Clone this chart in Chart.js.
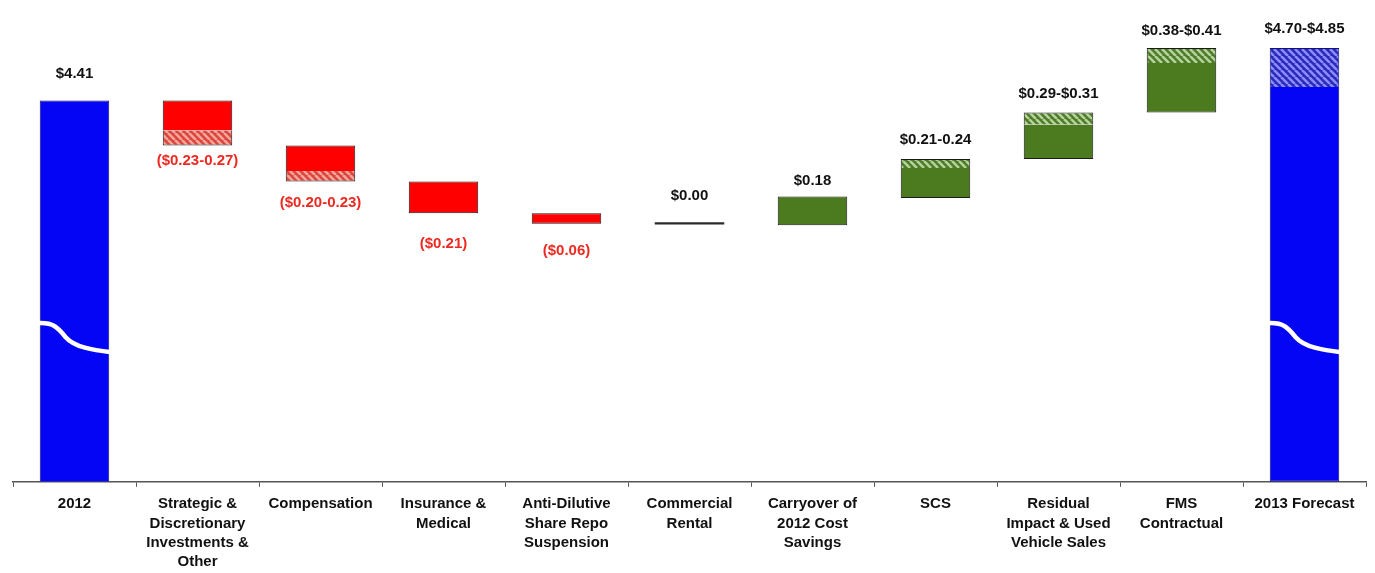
<!DOCTYPE html>
<html>
<head>
<meta charset="utf-8">
<script src="https://cdn.jsdelivr.net/npm/chart.js@4.4.0/dist/chart.umd.min.js"></script>
<style>
  html, body { margin: 0; padding: 0; background: #fff; }
</style>
</head>
<body>
<canvas id="chart" width="1375" height="573"></canvas>
<script>
// ── Data ──────────────────────────────────────────────────────────────────────
const categories = [
  ["2012"],
  ["Strategic &", "Discretionary", "Investments &", "Other"],
  ["Compensation"],
  ["Insurance &", "Medical"],
  ["Anti-Dilutive", "Share Repo", "Suspension"],
  ["Commercial", "Rental"],
  ["Carryover of", "2012 Cost", "Savings"],
  ["SCS"],
  ["Residual", "Impact & Used", "Vehicle Sales"],
  ["FMS", "Contractual"],
  ["2013 Forecast"]
];

// axis is broken: bottom of the plot is not zero
const AXIS_MIN = 1.87;
const AXIS_MAX = 5.0;

// solid part of each bar (EPS, as positioned in the picture)
const solidLo = [AXIS_MIN, 4.21, 3.94, 3.66, 3.59, 3.585, 3.58, 3.76, 4.02, 4.33, AXIS_MIN];
const solidHi = [4.41,     4.41, 4.11, 3.87, 3.66, 3.60,  3.77, 3.96, 4.25, 4.66, 4.50];

// hatched range part (upper/lower end of guidance)
const hatchLo = [null, 4.11, 3.87, null, null, null, null, 3.96, 4.25, 4.66, 4.50];
const hatchHi = [null, 4.21, 3.94, null, null, null, null, 4.02, 4.33, 4.76, 4.76];

const valueLabels = [
  "$4.41", "($0.23-0.27)", "($0.20-0.23)", "($0.21)", "($0.06)", "$0.00",
  "$0.18", "$0.21-0.24", "$0.29-$0.31", "$0.38-$0.41", "$4.70-$4.85"
];
const labelBelow = [false, true, true, true, true, false, false, false, false, false, false];

// ── Styles ────────────────────────────────────────────────────────────────────
const kind   = ["total", "neg", "neg", "neg", "neg", "flat", "pos", "pos", "pos", "pos", "total"];
const labelGap = [-27, 15, 21, 31, 27, -26, -16, -19, -19, -17, -19];
const FONT = '"Liberation Sans", Arial, Helvetica, sans-serif';

const canvas = document.getElementById("chart");
const ctx = canvas.getContext("2d");

function stripes(bg, fg) {
  const s = 7;
  const c = document.createElement("canvas");
  c.width = c.height = s;
  const g = c.getContext("2d");
  g.fillStyle = bg;
  g.fillRect(0, 0, s, s);
  g.strokeStyle = fg;
  g.lineWidth = 2.6;
  g.beginPath();
  [-s, 0, s].forEach(o => { g.moveTo(o, 0); g.lineTo(o + s, s); });
  g.stroke();
  return ctx.createPattern(c, "repeat");
}

const fillOf = { total: "#0505f5", neg: "#ff0000", pos: "#4c7a1e", flat: "#2a2a2a" };
const hatchOf = {
  total: stripes("#2a2ab8", "#8c8cff"),
  neg:   stripes("#d8463e", "#f7a49a"),
  pos:   stripes("#4f7a2a", "#b3d39a")
};
const edgeOf = { total: "#12127a", neg: "#1a1a1a", pos: "#1a1a1a", flat: "#2a2a2a" };

const solidSkip = ["bottom", "bottom", "bottom", false, false, false, false, "top", "top", "top", "top"];
const hatchSkip = [false, "top", "top", false, false, false, false, "bottom", "bottom", "bottom", "bottom"];

// ── Plugins ───────────────────────────────────────────────────────────────────
const axisBreak = {
  id: "axisBreak",
  afterDatasetsDraw(chart) {
    const meta = chart.getDatasetMeta(0);
    const c = chart.ctx;
    [0, 10].forEach(i => {
      const el = meta.data[i];
      const w = el.width + 4;
      const x0 = el.x - w / 2;
      const yb = chart.scales.y.getPixelForValue(2.88);
      c.save();
      c.strokeStyle = "#ffffff";
      c.lineWidth = 4.5;
      c.beginPath();
      c.moveTo(x0, yb - 7);
      c.bezierCurveTo(x0 + w * 0.22, yb - 8, x0 + w * 0.28, yb - 2, x0 + w * 0.38, yb + 7);
      c.bezierCurveTo(x0 + w * 0.5, yb + 17, x0 + w * 0.75, yb + 20, x0 + w, yb + 22);
      c.stroke();
      c.restore();
    });
  }
};

const barLabels = {
  id: "barLabels",
  afterDatasetsDraw(chart) {
    const { x, y } = chart.scales;
    const c = chart.ctx;
    c.save();
    c.font = "bold 15px " + FONT;
    c.textAlign = "center";
    c.textBaseline = "middle";
    valueLabels.forEach((t, i) => {
      const top = Math.max(solidHi[i], hatchHi[i] ?? -Infinity);
      const bot = Math.min(solidLo[i], hatchLo[i] ?? Infinity);
      const edge = y.getPixelForValue(labelBelow[i] ? bot : top);
      c.fillStyle = labelBelow[i] ? "#ec2a22" : "#111111";
      c.fillText(t, x.getPixelForValue(i), edge + labelGap[i]);
    });
    c.restore();
  }
};

// ── Chart ─────────────────────────────────────────────────────────────────────
new Chart(ctx, {
  type: "bar",
  data: {
    labels: categories,
    datasets: [
      {
        data: solidLo.map((lo, i) => [lo, solidHi[i]]),
        backgroundColor: kind.map(k => fillOf[k]),
        borderColor: kind.map(k => edgeOf[k]),
        borderWidth: kind.map(k => (k === "flat" ? 0 : 1)),
        borderSkipped: solidSkip,
        barPercentage: 0.565,
        categoryPercentage: 1
      },
      {
        data: hatchLo.map((lo, i) => (lo == null ? null : [lo, hatchHi[i]])),
        backgroundColor: kind.map(k => hatchOf[k] || "transparent"),
        borderColor: kind.map(k => edgeOf[k]),
        borderWidth: 1,
        borderSkipped: hatchSkip,
        barPercentage: 0.565,
        categoryPercentage: 1
      }
    ]
  },
  options: {
    responsive: false,
    animation: false,
    layout: { padding: { top: 12, left: 13, right: 9, bottom: -6 } },
    plugins: { legend: { display: false }, tooltip: { enabled: false } },
    scales: {
      x: {
        stacked: true,
        grid: { drawOnChartArea: false, drawTicks: true, tickLength: 5, color: "#555", offset: true },
        border: { color: "#555", width: 1.5 },
        ticks: {
          color: "#111",
          padding: 8,
          maxRotation: 0,
          autoSkip: false,
          font: { family: FONT, size: 15, weight: "bold", lineHeight: 1.27 }
        }
      },
      y: { display: false, min: AXIS_MIN, max: AXIS_MAX }
    }
  },
  plugins: [axisBreak, barLabels]
});
</script>
</body>
</html>
